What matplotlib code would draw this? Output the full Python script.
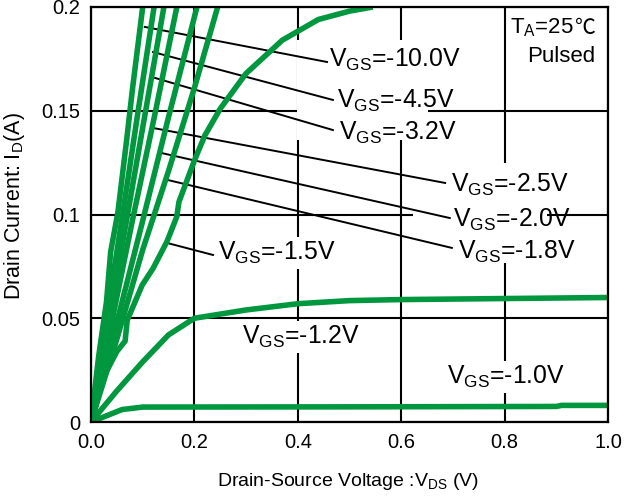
import matplotlib
matplotlib.use('Agg')
import matplotlib.pyplot as plt
from matplotlib.patches import Rectangle

plt.rcParams['font.family'] = ['Liberation Sans', 'DejaVu Sans']
plt.rcParams['mathtext.fontset'] = 'custom'
plt.rcParams['mathtext.rm'] = 'Liberation Sans'
plt.rcParams['mathtext.it'] = 'Liberation Sans:italic'
plt.rcParams['mathtext.bf'] = 'Liberation Sans:bold'
plt.rcParams['mathtext.default'] = 'regular'

GREEN = '#00973f'

# ---------------- data ----------------
vds_m10 = [0, 0.015, 0.03, 0.038, 0.052, 0.069, 0.08, 0.1]
id_m10 = [0, 0.032, 0.058, 0.082, 0.101, 0.136, 0.16, 0.2]

vds_m45 = [0, 0.03, 0.06, 0.09, 0.122]
id_m45 = [0, 0.05, 0.098, 0.148, 0.2]

vds_m32 = [0, 0.035, 0.07, 0.105, 0.141]
id_m32 = [0, 0.05, 0.099, 0.149, 0.2]

vds_m25 = [0, 0.04, 0.08, 0.125, 0.166]
id_m25 = [0, 0.048, 0.097, 0.15, 0.2]

vds_m20 = [0, 0.05, 0.1, 0.15, 0.205]
id_m20 = [0, 0.048, 0.097, 0.147, 0.2]

vds_m18 = [0, 0.05, 0.1, 0.15, 0.2, 0.245]
id_m18 = [0, 0.04, 0.083, 0.121, 0.161, 0.2]

vds_m15 = [0, 0.025, 0.05, 0.066, 0.07, 0.099, 0.12, 0.147, 0.166, 0.17,
           0.2, 0.22, 0.25, 0.3, 0.37, 0.44, 0.5, 0.545]
id_m15 = [0, 0.022, 0.034, 0.039, 0.049, 0.066, 0.074, 0.087, 0.099, 0.106,
          0.126, 0.138, 0.151, 0.168, 0.184, 0.194, 0.198, 0.2]

vds_m12 = [0, 0.02, 0.05, 0.1, 0.15, 0.2, 0.3, 0.4, 0.5, 0.6, 0.8, 1.0]
id_m12 = [0, 0.006, 0.015, 0.029, 0.042, 0.050, 0.054, 0.057, 0.0585, 0.059, 0.0595, 0.06]

vds_m10v = [0, 0.02, 0.06, 0.1, 0.5, 0.9, 0.91, 1.0]
id_m10v = [0, 0.002, 0.006, 0.0072, 0.0073, 0.0075, 0.008, 0.008]

curves = [(vds_m10, id_m10), (vds_m45, id_m45), (vds_m32, id_m32),
          (vds_m25, id_m25), (vds_m20, id_m20), (vds_m18, id_m18),
          (vds_m15, id_m15), (vds_m12, id_m12), (vds_m10v, id_m10v)]

label_texts = ['-10.0V', '-4.5V', '-3.2V', '-2.5V', '-2.0V', '-1.8V', '-1.5V', '-1.2V', '-1.0V']
label_x = [0.460, 0.476, 0.480, 0.696, 0.700, 0.710, 0.2456, 0.292, 0.689]
label_y = [0.1745, 0.1547, 0.1393, 0.1142, 0.0973, 0.0819, 0.0814, 0.041, 0.0217]
leader_x0 = [0.104, 0.120, 0.124, 0.120, 0.137, 0.149, 0.147, None, None]
leader_y0 = [0.1904, 0.1783, 0.1658, 0.1417, 0.1296, 0.1166, 0.0863, None, None]
leader_x1 = [0.4565, 0.468, 0.468, 0.685, 0.694, 0.698, 0.236, None, None]
leader_y1 = [0.1735, 0.1552, 0.1407, 0.1152, 0.0983, 0.0839, 0.0805, None, None]

x_ticks = [0.0, 0.2, 0.4, 0.6, 0.8, 1.0]
x_ticklabels = ['0.0', '0.2', '0.4', '0.6', '0.8', '1.0']
y_ticks = [0, 0.05, 0.1, 0.15, 0.2]
y_ticklabels = ['0', '0.05', '0.1', '0.15', '0.2']

# ---------------- figure ----------------
fig = plt.figure(figsize=(6.27, 4.99), dpi=100)
ax = fig.add_axes([91/627, 1-422/499, (608-91)/627, (422-7)/499])
ax.set_xlim(0, 1.0)
ax.set_ylim(0, 0.2)
ax.set_xticks(x_ticks)
ax.set_xticklabels(x_ticklabels)
ax.set_yticks(y_ticks)
ax.set_yticklabels(y_ticklabels)
ax.tick_params(length=0, labelsize=14.5, pad=8)
ax.set_axisbelow(True)
ax.grid(True, color='black', lw=1.5)
for s in ax.spines.values():
    s.set_linewidth(1.6)
    s.set_zorder(6)

# white masks hiding grid behind label groups
ax.add_patch(Rectangle((0.398, 0.1359), 0.254, 0.0482, transform=ax.transData,
                       facecolor='white', edgecolor='none', zorder=1))
ax.add_patch(Rectangle((0.623, 0.0766), 0.259, 0.0482, transform=ax.transData,
                       facecolor='white', edgecolor='none', zorder=1))

for vx, iy in curves:
    ax.plot(vx, iy, color=GREEN, lw=4, solid_joinstyle='round',
            solid_capstyle='butt', zorder=3, clip_on=True)

for i, t in enumerate(label_texts):
    s = 'V$_{\\mathregular{GS}}$=' + t
    boxed = i >= 6
    ax.text(label_x[i], label_y[i], s, fontsize=17.8, ha='left', va='center',
            zorder=5,
            bbox=dict(facecolor='white', edgecolor='none', pad=2) if boxed else None)
    if leader_x0[i] is not None:
        ax.plot([leader_x0[i], leader_x1[i]], [leader_y0[i], leader_y1[i]],
                color='black', lw=1.4, zorder=2)

# temperature annotation
t1 = fig.text(510/627, 1-28/499, 'T$_{\\mathregular{A}}$=25', fontsize=16,
              ha='left', va='center')
fig.canvas.draw()
bb = t1.get_window_extent()
fig.text(bb.x1/627 + 0.002, 1-28/499, '\u2103', fontsize=15, ha='left', va='center',
         family=['Noto Sans CJK SC', 'DejaVu Sans'])
fig.text(561/627, 1-57/499, 'Pulsed', fontsize=16, ha='center', va='center')

fig.text(348/627, 1-482/499, 'Drain-Source Voltage :V$_{\\mathregular{DS}}$ (V)',
         fontsize=14, ha='center', va='center')
fig.text(15/627, 1-206/499, 'Drain Current: I$_{\\mathregular{D}}$(A)',
         fontsize=15.5, ha='center', va='center', rotation=90)

fig.savefig('out.png', dpi=100)
